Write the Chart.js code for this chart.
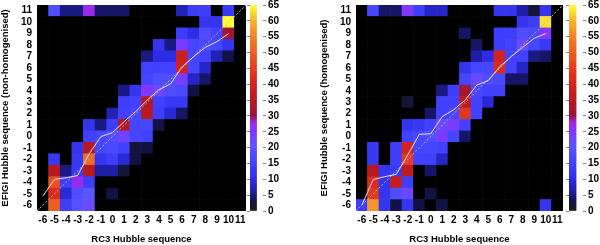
<!DOCTYPE html>
<html>
<head>
<meta charset="utf-8">
<script src="https://cdn.jsdelivr.net/npm/chart.js@4"></script>
<style>
  body { margin: 0; background: #fff; }
  .wrap { position: relative; width: 600px; height: 245px; overflow: hidden; }
  .box { position: absolute; top: 0; height: 245px; }
</style>
</head>
<body>
<div class="wrap">
  <div class="box" style="left:0;width:246px"><canvas id="leftMap"></canvas></div>
  <div class="box" style="left:246px;width:54px"><canvas id="leftBar"></canvas></div>
  <div class="box" style="left:300px;width:263px"><canvas id="rightMap"></canvas></div>
  <div class="box" style="left:563px;width:37px"><canvas id="rightBar"></canvas></div>
</div>

<script>
  // Hubble type bins, shared by both axes
  const hubbleTicks = [-6, -5, -4, -3, -2, -1, 0, 1, 2, 3, 4, 5, 6, 7, 8, 9, 10, 11];
  const colorbarTicks = [0, 5, 10, 15, 20, 25, 30, 35, 40, 45, 50, 55, 60, 65];

  // counts, rows from y=11 (top) down to y=-6, columns x=-6..11
  const countsNonHomog = [
    [0,18,5,5,27,4,4,4,0,0,0,0,7,14,14,0,13,0],
    [0,0,0,0,0,0,0,0,0,0,0,0,0,0,12,12,65,0],
    [0,0,0,0,0,0,0,0,0,0,0,0,14,10,18,15,32,0],
    [0,0,0,0,0,0,0,0,0,0,12,5,24,16,17,16,12,0],
    [0,0,0,0,0,0,0,0,0,5,10,10,38,16,15,7,3,0],
    [0,0,0,0,0,0,0,0,0,15,15,15,40,16,8,0,0,0],
    [0,0,0,0,0,0,0,0,0,16,18,18,24,8,4,0,0,0],
    [0,0,0,0,0,0,0,5,12,25,22,18,17,3,0,0,0,0],
    [0,0,0,0,0,0,0,14,15,34,15,13,13,0,0,0,0,0],
    [0,0,0,0,0,0,7,15,16,35,14,9,4,0,0,0,0,0],
    [0,0,0,0,12,5,14,34,16,16,3,0,0,0,0,0,0,0],
    [0,0,0,0,15,16,18,23,16,15,0,0,0,0,0,0,0,0],
    [0,0,0,12,35,16,17,15,2,3,0,0,0,0,0,0,0,0],
    [0,13,0,13,52,12,14,9,3,0,0,0,0,0,0,0,0,0],
    [0,35,5,13,35,6,6,2,0,0,0,0,0,0,0,0,0,0],
    [0,48,14,27,14,0,0,0,0,0,0,0,0,0,0,0,0,0],
    [0,42,9,18,20,0,3,0,0,0,0,0,0,0,0,0,0,0],
    [0,50,14,19,22,0,0,0,0,0,0,0,0,0,0,0,0,0]
  ];
  const countsHomog = [
    [0,16,4,4,25,14,8,8,0,0,0,0,12,12,6,2,12,0],
    [0,0,0,0,0,0,0,0,0,0,0,0,0,0,12,14,63,0],
    [0,0,0,0,0,0,0,0,0,4,0,0,14,14,18,17,25,0],
    [0,0,0,0,0,0,0,0,0,0,4,0,14,15,22,16,13,0],
    [0,0,0,0,0,0,0,0,0,0,6,10,40,15,15,5,4,0],
    [0,0,0,0,0,0,0,0,0,12,16,16,42,15,8,0,0,0],
    [0,0,0,0,0,0,0,0,0,16,22,18,17,4,4,0,0,0],
    [0,0,0,0,0,0,0,5,14,32,17,15,15,0,0,0,0,0],
    [0,0,0,0,2,0,0,15,15,36,15,9,0,0,0,0,0,0],
    [0,0,0,0,0,0,4,15,16,44,15,0,0,0,0,0,0,0],
    [0,0,0,0,12,13,15,22,24,15,0,0,0,0,0,0,0,0],
    [0,0,0,0,15,16,18,24,16,4,0,0,0,0,0,0,0,0],
    [0,13,0,14,40,16,16,15,0,0,0,0,0,0,0,0,0,0],
    [0,13,0,14,45,15,15,8,0,0,0,0,0,0,0,0,0,0],
    [0,35,12,13,36,0,4,0,0,0,0,0,0,0,0,0,0,0],
    [0,42,12,37,14,0,0,0,0,0,0,0,0,0,0,0,0,0],
    [0,45,12,18,22,0,3,0,0,0,0,0,0,0,0,0,0,0],
    [14,57,12,3,12,3,0,3,0,0,0,0,0,0,0,0,12,0]
  ];

  // mean EFIGI type per RC3 bin (x = -6..10)
  const meanNonHomog = [-5.2, -3.75, -3.6, -3.4, -1.5, 0.0, 0.35, 1.3, 2.2, 3.2, 4.1, 4.6, 6.1, 7.0, 7.8, 8.3, 9.0];
  const meanHomog = [-6.0, -3.75, -3.5, -3.3, -1.6, 0.2, 0.25, 1.75, 2.35, 3.2, 4.5, 4.9, 6.1, 7.0, 7.8, 8.6, 9.0];

  const FONT = "'Liberation Sans', Arial, sans-serif";
  Chart.defaults.font.family = FONT;
  Chart.defaults.color = '#000';
  Chart.defaults.animation = false;

  const paletteStops = [
    [0, [28, 28, 28]], [3, [18, 18, 70]], [6, [30, 30, 165]], [10, [45, 45, 230]],
    [15, [65, 65, 255]], [20, [90, 85, 255]], [25, [130, 55, 255]], [28, [165, 35, 230]],
    [30, [150, 20, 55]], [35, [185, 25, 30]], [40, [212, 35, 30]], [45, [228, 60, 30]],
    [50, [235, 95, 35]], [55, [240, 130, 40]], [60, [245, 180, 50]], [65, [255, 255, 50]]
  ];

  function heatColor(v) {
    if (v <= 0) return '#000';
    for (let i = 1; i < paletteStops.length; i++) {
      const [v1, c1] = paletteStops[i];
      if (v <= v1) {
        const [v0, c0] = paletteStops[i - 1];
        const t = (v - v0) / (v1 - v0);
        const c = c0.map((a, k) => Math.round(a + (c1[k] - a) * t));
        return `rgb(${c[0]},${c[1]},${c[2]})`;
      }
    }
    return 'rgb(255,255,50)';
  }

  function heatCells(matrix) {
    const cells = [];
    matrix.forEach((row, r) => {
      const yv = hubbleTicks[hubbleTicks.length - 1 - r];
      row.forEach((n, c) => cells.push({ x: hubbleTicks[c], y: [yv - 0.5, yv + 0.5], n }));
    });
    return cells;
  }

  // stop the label overhang from moving the plot area
  const noPad = s => { s.paddingTop = 0; s.paddingBottom = 0; s.paddingLeft = 0; s.paddingRight = 0; };

  function heatmapChart(id, matrix, means, yTitle, padLeft) {
    const cells = heatCells(matrix);
    const lo = hubbleTicks[0] - 0.5, hi = hubbleTicks[hubbleTicks.length - 1] + 0.5;
    const tickFont = { size: 10, weight: 'bold' };
    const titleFont = { size: 9.5, weight: 'bold' };
    new Chart(document.getElementById(id), {
      type: 'bar',
      data: {
        datasets: [
          {
            type: 'line', order: 0,
            data: means.map((m, i) => ({ x: hubbleTicks[i], y: m })),
            borderColor: '#f2e0f8', borderWidth: 1, pointRadius: 0, tension: 0
          },
          {
            type: 'line', order: 1,
            data: [{ x: lo, y: lo }, { x: hi, y: hi }],
            borderColor: '#b8b8b8', borderWidth: 1, borderDash: [2, 2], pointRadius: 0
          },
          {
            order: 2,
            data: cells,
            backgroundColor: cells.map(c => heatColor(c.n)),
            borderWidth: 0, categoryPercentage: 1, barPercentage: 1, grouped: false
          }
        ]
      },
      options: {
        responsive: true, maintainAspectRatio: false,
        layout: { padding: { top: 5, left: padLeft, right: 0, bottom: 0 } },
        plugins: { legend: { display: false }, tooltip: { enabled: false } },
        scales: {
          x: {
            type: 'linear', min: lo, max: hi, offset: false,
            grid: { display: false, drawTicks: false, offset: false }, border: { display: false },
            afterBuildTicks: s => { s.ticks = hubbleTicks.map(v => ({ value: v })); },
            afterFit: s => { s.height = 34; noPad(s); },
            ticks: { font: tickFont, padding: 3, autoSkip: false, maxRotation: 0 },
            title: { display: true, text: 'RC3 Hubble sequence', font: titleFont, padding: { top: 0, bottom: 0 } }
          },
          y: {
            type: 'linear', min: lo, max: hi,
            grid: { display: false, drawTicks: false }, border: { display: false },
            afterBuildTicks: s => { s.ticks = hubbleTicks.map(v => ({ value: v })); },
            afterFit: s => { s.width = 37; noPad(s); },
            ticks: { font: tickFont, padding: 5, autoSkip: false },
            title: { display: true, text: yTitle, font: titleFont, padding: { top: 0, bottom: 0 } }
          }
        }
      }
    });
  }

  function colorbarChart(id, leftW, rightW) {
    const steps = [];
    for (let v = colorbarTicks[0]; v < colorbarTicks[colorbarTicks.length - 1]; v += 0.5) steps.push(v);
    const top = colorbarTicks[colorbarTicks.length - 1];
    new Chart(document.getElementById(id), {
      type: 'bar',
      data: {
        labels: [''],
        datasets: steps.map(v => ({
          data: [[v, v + 0.5]], backgroundColor: v < 1 ? 'rgb(30,30,30)' : heatColor(v + 0.25),
          borderWidth: 0, categoryPercentage: 1, barPercentage: 1, grouped: false
        }))
      },
      options: {
        responsive: true, maintainAspectRatio: false,
        layout: { padding: { top: 5, bottom: 34, left: 0, right: 0 } },
        plugins: { legend: { display: false }, tooltip: { enabled: false } },
        scales: {
          x: { display: false, offset: false },
          y: {
            position: 'right', min: 0, max: top,
            afterBuildTicks: s => { s.ticks = colorbarTicks.map(v => ({ value: v })); },
            afterFit: s => { s.width = rightW; noPad(s); },
            grid: { drawOnChartArea: false, tickLength: 3, color: '#8a8a8a' }, border: { display: false },
            ticks: { font: { size: 10, weight: 'bold' }, padding: 2 }
          },
          yl: {
            position: 'left', min: 0, max: top,
            afterBuildTicks: s => { s.ticks = colorbarTicks.map(v => ({ value: v })); },
            afterFit: s => { s.width = leftW; noPad(s); },
            grid: { drawOnChartArea: false, tickLength: 3, color: '#8a8a8a' }, border: { display: false },
            ticks: { display: false }
          }
        }
      }
    });
  }

  heatmapChart('leftMap', countsNonHomog, meanNonHomog, 'EFIGI Hubble sequence (non-homogenised)', 0);
  heatmapChart('rightMap', countsHomog, meanHomog, 'EFIGI Hubble sequence (homogenised)', 19);
  colorbarChart('leftBar', 4, 37);
  colorbarChart('rightBar', 6, 17);
</script>
</body>
</html>
